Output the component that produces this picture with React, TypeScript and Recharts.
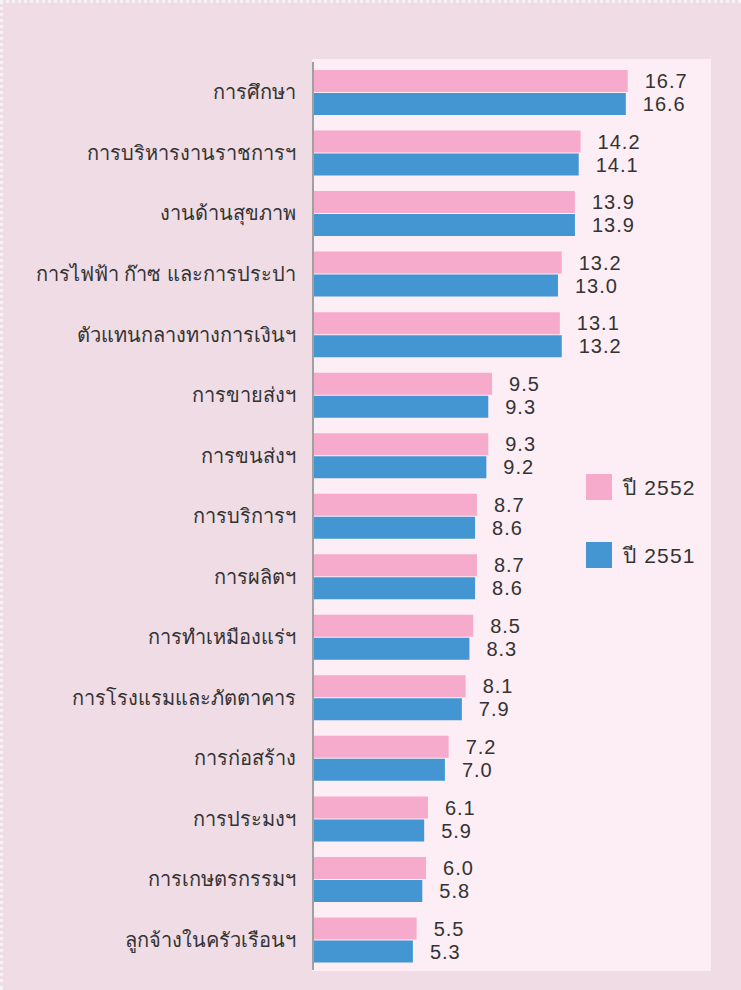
import React from 'react';
import { BarChart, Bar, XAxis, YAxis, LabelList } from 'recharts';

const categories = [
  'การศึกษา',
  'การบริหารงานราชการฯ',
  'งานด้านสุขภาพ',
  'การไฟฟ้า ก๊าซ และการประปา',
  'ตัวแทนกลางทางการเงินฯ',
  'การขายส่งฯ',
  'การขนส่งฯ',
  'การบริการฯ',
  'การผลิตฯ',
  'การทำเหมืองแร่ฯ',
  'การโรงแรมและภัตตาคาร',
  'การก่อสร้าง',
  'การประมงฯ',
  'การเกษตรกรรมฯ',
  'ลูกจ้างในครัวเรือนฯ',
];
const values2552 = [16.7, 14.2, 13.9, 13.2, 13.1, 9.5, 9.3, 8.7, 8.7, 8.5, 8.1, 7.2, 6.1, 6.0, 5.5];
const values2551 = [16.6, 14.1, 13.9, 13.0, 13.2, 9.3, 9.2, 8.6, 8.6, 8.3, 7.9, 7.0, 5.9, 5.8, 5.3];
const seriesNames = ['ปี 2552', 'ปี 2551'];
const seriesColors = ['#f6abcd', '#4396d2'];

const data = categories.map((c, i) => ({ name: c, y2552: values2552[i], y2551: values2551[i] }));

const FONT = '"Liberation Sans", Arial, "Noto Sans", sans-serif';

const LegendBox = () => (
  <div style={{ position: 'absolute', left: 583, top: 471, fontFamily: FONT }}>
    {seriesNames.map((n, i) => (
      <div key={n} style={{ display: 'flex', alignItems: 'center', height: 26, marginBottom: i === 0 ? 42 : 0 }}>
        <div style={{ width: 26, height: 26, background: seriesColors[i] }} />
        <span style={{ marginLeft: 11, fontSize: 21, color: '#333', letterSpacing: 1.2 }}>{n}</span>
      </div>
    ))}
  </div>
);

export default function App() {
  return (
    <div
      style={{
        position: 'absolute',
        left: 0,
        top: 0,
        width: 741,
        height: 990,
        background: '#efdce5',
        boxSizing: 'border-box',
        borderTop: '3px dotted #f7f3f5',
        borderLeft: '3px dotted #f7f3f5',
        overflow: 'hidden',
      }}
    >
      <div
        style={{
          position: 'absolute',
          left: 309,
          top: 56,
          width: 399,
          height: 912,
          background: '#fdedf4',
        }}
      />
      <div style={{ position: 'absolute', left: -3, top: -3 }}>
        <BarChart
          width={741}
          height={990}
          data={data}
          layout="vertical"
          margin={{ top: 62, right: 30, bottom: 20, left: 0 }}
          barSize={22}
          barGap={1}
          barCategoryGap={16}
        >
          <XAxis type="number" hide domain={[0, 21.12]} />
          <YAxis
            type="category"
            dataKey="name"
            width={313}
            axisLine={{ stroke: '#a0a0a0', strokeWidth: 2 }}
            tickLine={false}
            tickSize={0}
            tickMargin={17}
            interval={0}
            tick={{ fontSize: 20, fill: '#333', fontFamily: FONT }}
          />
          <Bar dataKey="y2552" name={seriesNames[0]} fill={seriesColors[0]} isAnimationActive={false}>
            <LabelList
              dataKey="y2552"
              position="right"
              offset={17}
              formatter={(v: number) => v.toFixed(1)}
              style={{ fontSize: 20, fill: '#333', fontFamily: FONT, letterSpacing: 1 }}
            />
          </Bar>
          <Bar dataKey="y2551" name={seriesNames[1]} fill={seriesColors[1]} isAnimationActive={false}>
            <LabelList
              dataKey="y2551"
              position="right"
              offset={17}
              formatter={(v: number) => v.toFixed(1)}
              style={{ fontSize: 20, fill: '#333', fontFamily: FONT, letterSpacing: 1 }}
            />
          </Bar>
        </BarChart>
      </div>
      <LegendBox />
    </div>
  );
}
